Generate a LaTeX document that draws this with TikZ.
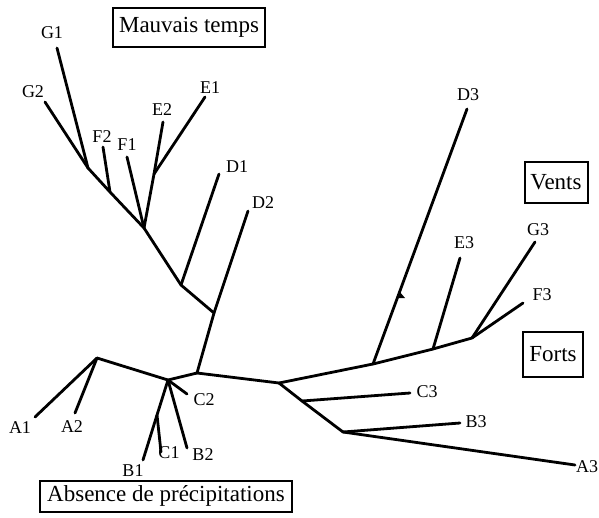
\documentclass[tikz,border=0pt]{standalone}
\usepackage{fontspec}
\setmainfont{Liberation Serif}
\begin{document}
\begin{tikzpicture}[x=1pt,y=-1pt,
  edge/.style={line width=2.8pt,line cap=round,line join=round},
  lbl/.style={inner sep=0pt,font=\fontsize{18}{18}\selectfont},
  titlebox/.style={draw,line width=2pt,inner sep=0pt,font=\fontsize{23}{23}\selectfont}]
\useasboundingbox (0,0) rectangle (599,517);
% junctions
\coordinate (jG) at (88,168);
\coordinate (jF2) at (110,192);
\coordinate (jF) at (144,228);
\coordinate (jE) at (154,174);
\coordinate (jD1) at (181,285);
\coordinate (jD2) at (214,313);
\coordinate (jM) at (197,373);
\coordinate (jB) at (168,380);
\coordinate (jA) at (97,358);
\coordinate (jC1) at (157,415);
\coordinate (jR) at (279,383);
\coordinate (jU1) at (373,364);
\coordinate (jU2) at (433,349);
\coordinate (jU3) at (472,338);
\coordinate (jL1) at (302,401);
\coordinate (jL2) at (343,432);
% tips
\coordinate (tG1) at (57,48);
\coordinate (tG2) at (45,102);
\coordinate (tF2) at (103,147);
\coordinate (tF1) at (127,157);
\coordinate (tE2) at (163,122);
\coordinate (tE1) at (205,97);
\coordinate (tD1) at (219,174);
\coordinate (tD2) at (248,211);
\coordinate (tA1) at (35,417);
\coordinate (tA2) at (75,413);
\coordinate (tC2) at (187,394);
\coordinate (tB1) at (143,460);
\coordinate (tC1) at (161,452);
\coordinate (tB2) at (187,448);
\coordinate (tC3) at (410,393);
\coordinate (tB3) at (460,423);
\coordinate (tA3) at (575,465);
\coordinate (tD3) at (467,109);
\coordinate (tE3) at (460,258);
\coordinate (tG3) at (535,242);
\coordinate (tF3) at (523,303);
% edges
\draw[edge] (jG) -- (jF2) -- (jF) -- (jD1) -- (jD2) -- (jM) -- (jR);
\draw[edge] (jM) -- (jB) -- (jA);
\draw[edge] (tG1) -- (jG);
\draw[edge] (tG2) -- (jG);
\draw[edge] (tF2) -- (jF2);
\draw[edge] (tF1) -- (jF);
\draw[edge] (tE2) -- (jE) -- (jF);
\draw[edge] (tE1) -- (jE);
\draw[edge] (tD1) -- (jD1);
\draw[edge] (tD2) -- (jD2);
\draw[edge] (tA1) -- (jA);
\draw[edge] (tA2) -- (jA);
\draw[edge] (jB) -- (tC2);
\draw[edge] (jB) -- (jC1) -- (tB1);
\draw[edge] (jC1) -- (tC1);
\draw[edge] (jB) -- (tB2);
\draw[edge] (jR) -- (jU1) -- (jU2) -- (jU3);
\draw[edge] (jU1) -- (tD3);
\draw[edge] (jU2) -- (tE3);
\draw[edge] (jU3) -- (tG3);
\draw[edge] (jU3) -- (tF3);
\draw[edge] (jR) -- (jL1) -- (jL2);
\draw[edge] (jL1) -- (tC3);
\draw[edge] (jL2) -- (tB3);
\draw[edge] (jL2) -- (tA3);
% small mark on D3 branch
\fill (399,291) -- (397,298) -- (405,298) -- cycle;
% labels
\node[lbl] (G1) at (52,33) {G1};
\node[lbl] (G2) at (33,92) {G2};
\node[lbl] (F2) at (102,137) {F2};
\node[lbl] (F1) at (127,145) {F1};
\node[lbl] (E2) at (162,110) {E2};
\node[lbl] (E1) at (210,88) {E1};
\node[lbl] (D1) at (237,167) {D1};
\node[lbl] (D2) at (263,203) {D2};
\node[lbl] (D3) at (468,95) {D3};
\node[lbl] (E3) at (464,243) {E3};
\node[lbl] (G3) at (538,230) {G3};
\node[lbl] (F3) at (542,295) {F3};
\node[lbl] (C3) at (427,392) {C3};
\node[lbl] (B3) at (476,422) {B3};
\node[lbl] (A3) at (587,467) {A3};
\node[lbl] (A1) at (20,428) {A1};
\node[lbl] (A2) at (72,427) {A2};
\node[lbl] (C2) at (204,400) {C2};
\node[lbl] (B1) at (133,471) {B1};
\node[lbl] (C1) at (169,453) {C1};
\node[lbl] (B2) at (203,455) {B2};
% boxes
\node[titlebox,minimum width=152pt,minimum height=39pt] (mauvais) at (189,27.5) {Mauvais temps};
\node[titlebox,minimum width=63pt,minimum height=41pt] (vents) at (556,182.5) {Vents};
\node[titlebox,minimum width=60pt,minimum height=45pt] (forts) at (553,354.5) {Forts};
\node[titlebox,minimum width=252pt,minimum height=31pt] (absence) at (166,496) {Absence de précipitations};
\end{tikzpicture}
\end{document}
